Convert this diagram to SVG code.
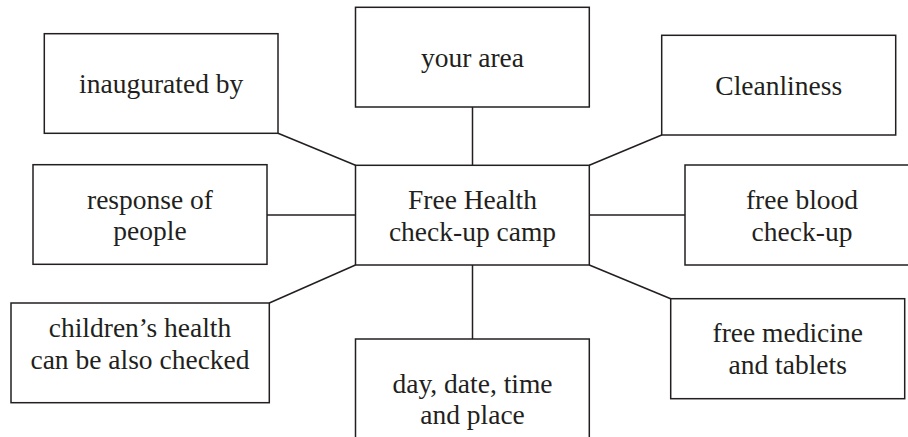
<svg xmlns="http://www.w3.org/2000/svg" width="908" height="437" viewBox="0 0 908 437">
<style>
.box{fill:#fff;stroke:#231f20;stroke-width:1.5}
.ln{stroke:#231f20;stroke-width:1.5;fill:none}
.t{font-family:'Liberation Serif','DejaVu Serif','Times New Roman',Times,serif;font-size:27.5px;fill:#231f20;text-anchor:middle}
</style>
<rect width="908" height="437" fill="#fff"/>
<g id="connectors">
<line class="ln" x1="278" y1="133.3" x2="355.5" y2="165.3"/>
<line class="ln" x1="472.5" y1="107" x2="472.5" y2="165.3"/>
<line class="ln" x1="589.3" y1="165.3" x2="661.7" y2="135"/>
<line class="ln" x1="267" y1="215" x2="355.5" y2="215"/>
<line class="ln" x1="589.3" y1="215" x2="685" y2="215"/>
<line class="ln" x1="355.5" y1="265" x2="269.3" y2="303"/>
<line class="ln" x1="472.5" y1="265" x2="472.5" y2="339"/>
<line class="ln" x1="589.3" y1="265" x2="670.7" y2="298.7"/>
</g>
<g id="center">
<rect class="box" x="355.5" y="165.3" width="233.8" height="99.7"/>
<text class="t" font-family="Liberation Serif, serif" x="472.5" y="209.3">Free Health</text>
<text class="t" font-family="Liberation Serif, serif" x="472.5" y="240.7">check-up camp</text>
</g>
<g id="inaugurated">
<rect class="box" x="44.3" y="33.7" width="233.7" height="99.6"/>
<text class="t" font-family="Liberation Serif, serif" x="161.2" y="92.7">inaugurated by</text>
</g>
<g id="area">
<rect class="box" x="355.5" y="7.3" width="233.8" height="99.7"/>
<text class="t" font-family="Liberation Serif, serif" x="472.5" y="66.5">your area</text>
</g>
<g id="cleanliness">
<rect class="box" x="661.7" y="35.3" width="234" height="99.7"/>
<text class="t" font-family="Liberation Serif, serif" x="778.7" y="95">Cleanliness</text>
</g>
<g id="response">
<rect class="box" x="33" y="164.7" width="234" height="99.6"/>
<text class="t" font-family="Liberation Serif, serif" x="150" y="208.5">response of</text>
<text class="t" font-family="Liberation Serif, serif" x="150" y="240.3">people</text>
</g>
<g id="blood">
<rect class="box" x="685" y="165" width="240" height="100"/>
<text class="t" font-family="Liberation Serif, serif" x="802" y="209.3">free blood</text>
<text class="t" font-family="Liberation Serif, serif" x="802" y="240.7">check-up</text>
</g>
<g id="children">
<rect class="box" x="11" y="303" width="258.3" height="99.7"/>
<text class="t" font-family="Liberation Serif, serif" x="140" y="337">children’s health</text>
<text class="t" font-family="Liberation Serif, serif" x="140" y="369.3">can be also checked</text>
</g>
<g id="day">
<rect class="box" x="355.5" y="339" width="233.8" height="110"/>
<text class="t" font-family="Liberation Serif, serif" x="472.5" y="392.7">day, date, time</text>
<text class="t" font-family="Liberation Serif, serif" x="472.5" y="424">and place</text>
</g>
<g id="medicine">
<rect class="box" x="670.7" y="298.7" width="234" height="100"/>
<text class="t" font-family="Liberation Serif, serif" x="787.7" y="342">free medicine</text>
<text class="t" font-family="Liberation Serif, serif" x="787.7" y="373.7">and tablets</text>
</g>
</svg>
